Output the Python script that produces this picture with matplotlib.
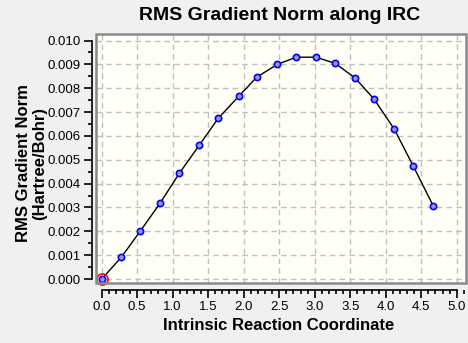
import matplotlib
matplotlib.use("Agg")
import matplotlib.pyplot as plt
from matplotlib.patches import Rectangle
from matplotlib.ticker import MultipleLocator, FormatStrFormatter

# IRC data
irc = [0.0, 0.276, 0.544, 0.825, 1.093, 1.375, 1.642, 1.930, 2.183,
       2.473, 2.741, 3.018, 3.290, 3.572, 3.839, 4.121, 4.389, 4.670]
grad = [0.0, 0.00091, 0.00201, 0.00319, 0.00443, 0.00561, 0.00674, 0.00766,
        0.00846, 0.00900, 0.00930, 0.00930, 0.00904, 0.00842, 0.00753,
        0.00628, 0.00473, 0.00306]

title = "RMS Gradient Norm along IRC"
xlabel = "Intrinsic Reaction Coordinate"
ylabel = "RMS Gradient Norm\n(Hartree/Bohr)"

plt.rcParams['font.family'] = ['Liberation Sans', 'DejaVu Sans']

fig = plt.figure(figsize=(4.68, 3.43), dpi=100)
fig.patch.set_facecolor('#f0f0f0')
ax = fig.add_axes([0.2051, 0.174, 0.7913, 0.726])
ax.set_facecolor('#fffff7')
ax.set_xlim(-0.08, 5.135)
ax.set_ylim(-0.00018, 0.01026)

# grid
ax.set_xticks([i * 0.5 for i in range(11)])
ax.set_yticks([i * 0.001 for i in range(11)])
ax.grid(True, color='#c0c0c0', linestyle=(0, (4, 3)), linewidth=1)
ax.set_axisbelow(True)

# axis lines offset from the plot box
for s in ['top', 'right']:
    ax.spines[s].set_visible(False)
ax.spines['left'].set_position(('outward', 3))
ax.spines['bottom'].set_position(('outward', 5))
ax.spines['left'].set_bounds(0, 0.010)
ax.spines['bottom'].set_bounds(0, 5.0)
ax.spines['left'].set_linewidth(1.2)
ax.spines['bottom'].set_linewidth(1.2)

ax.xaxis.set_minor_locator(MultipleLocator(0.1))
ax.yaxis.set_minor_locator(MultipleLocator(0.0005))
ax.yaxis.set_major_formatter(FormatStrFormatter('%.3f'))
ax.xaxis.set_major_formatter(FormatStrFormatter('%.1f'))
ax.tick_params(which='major', length=6, width=1.2, labelsize=9.5, pad=2)
ax.tick_params(which='minor', length=3, width=1.2)

ax.add_patch(Rectangle((0, 0), 1, 1, transform=ax.transAxes, fill=False,
                       edgecolor='#8a8a8a', linewidth=1.8, clip_on=False, zorder=5))

ax.plot(irc, grad, color='black', linewidth=1, zorder=3)
ax.plot(irc, grad, linestyle='none', marker='o', markersize=4.5,
        markerfacecolor='#9898c8', markeredgecolor='#0000ff', markeredgewidth=1.2,
        zorder=4, clip_on=False)
ax.plot(irc[0], grad[0], linestyle='none', marker='o', markersize=8,
        markerfacecolor='none', markeredgecolor='red', markeredgewidth=1.2,
        zorder=4, clip_on=False)

fig.text(280 / 468, 1 - 16 / 343, title, ha='center', va='center',
         fontsize=14, fontweight='bold')
fig.text(279 / 468, 1 - 326 / 343, xlabel, ha='center', va='center',
         fontsize=12, fontweight='bold')
fig.text(32 / 468, 1 - 163 / 343, ylabel, ha='center', va='center',
         rotation=90, multialignment='center', fontsize=12, fontweight='bold',
         linespacing=1.1)

fig.savefig('out.png', dpi=100, facecolor=fig.get_facecolor())
